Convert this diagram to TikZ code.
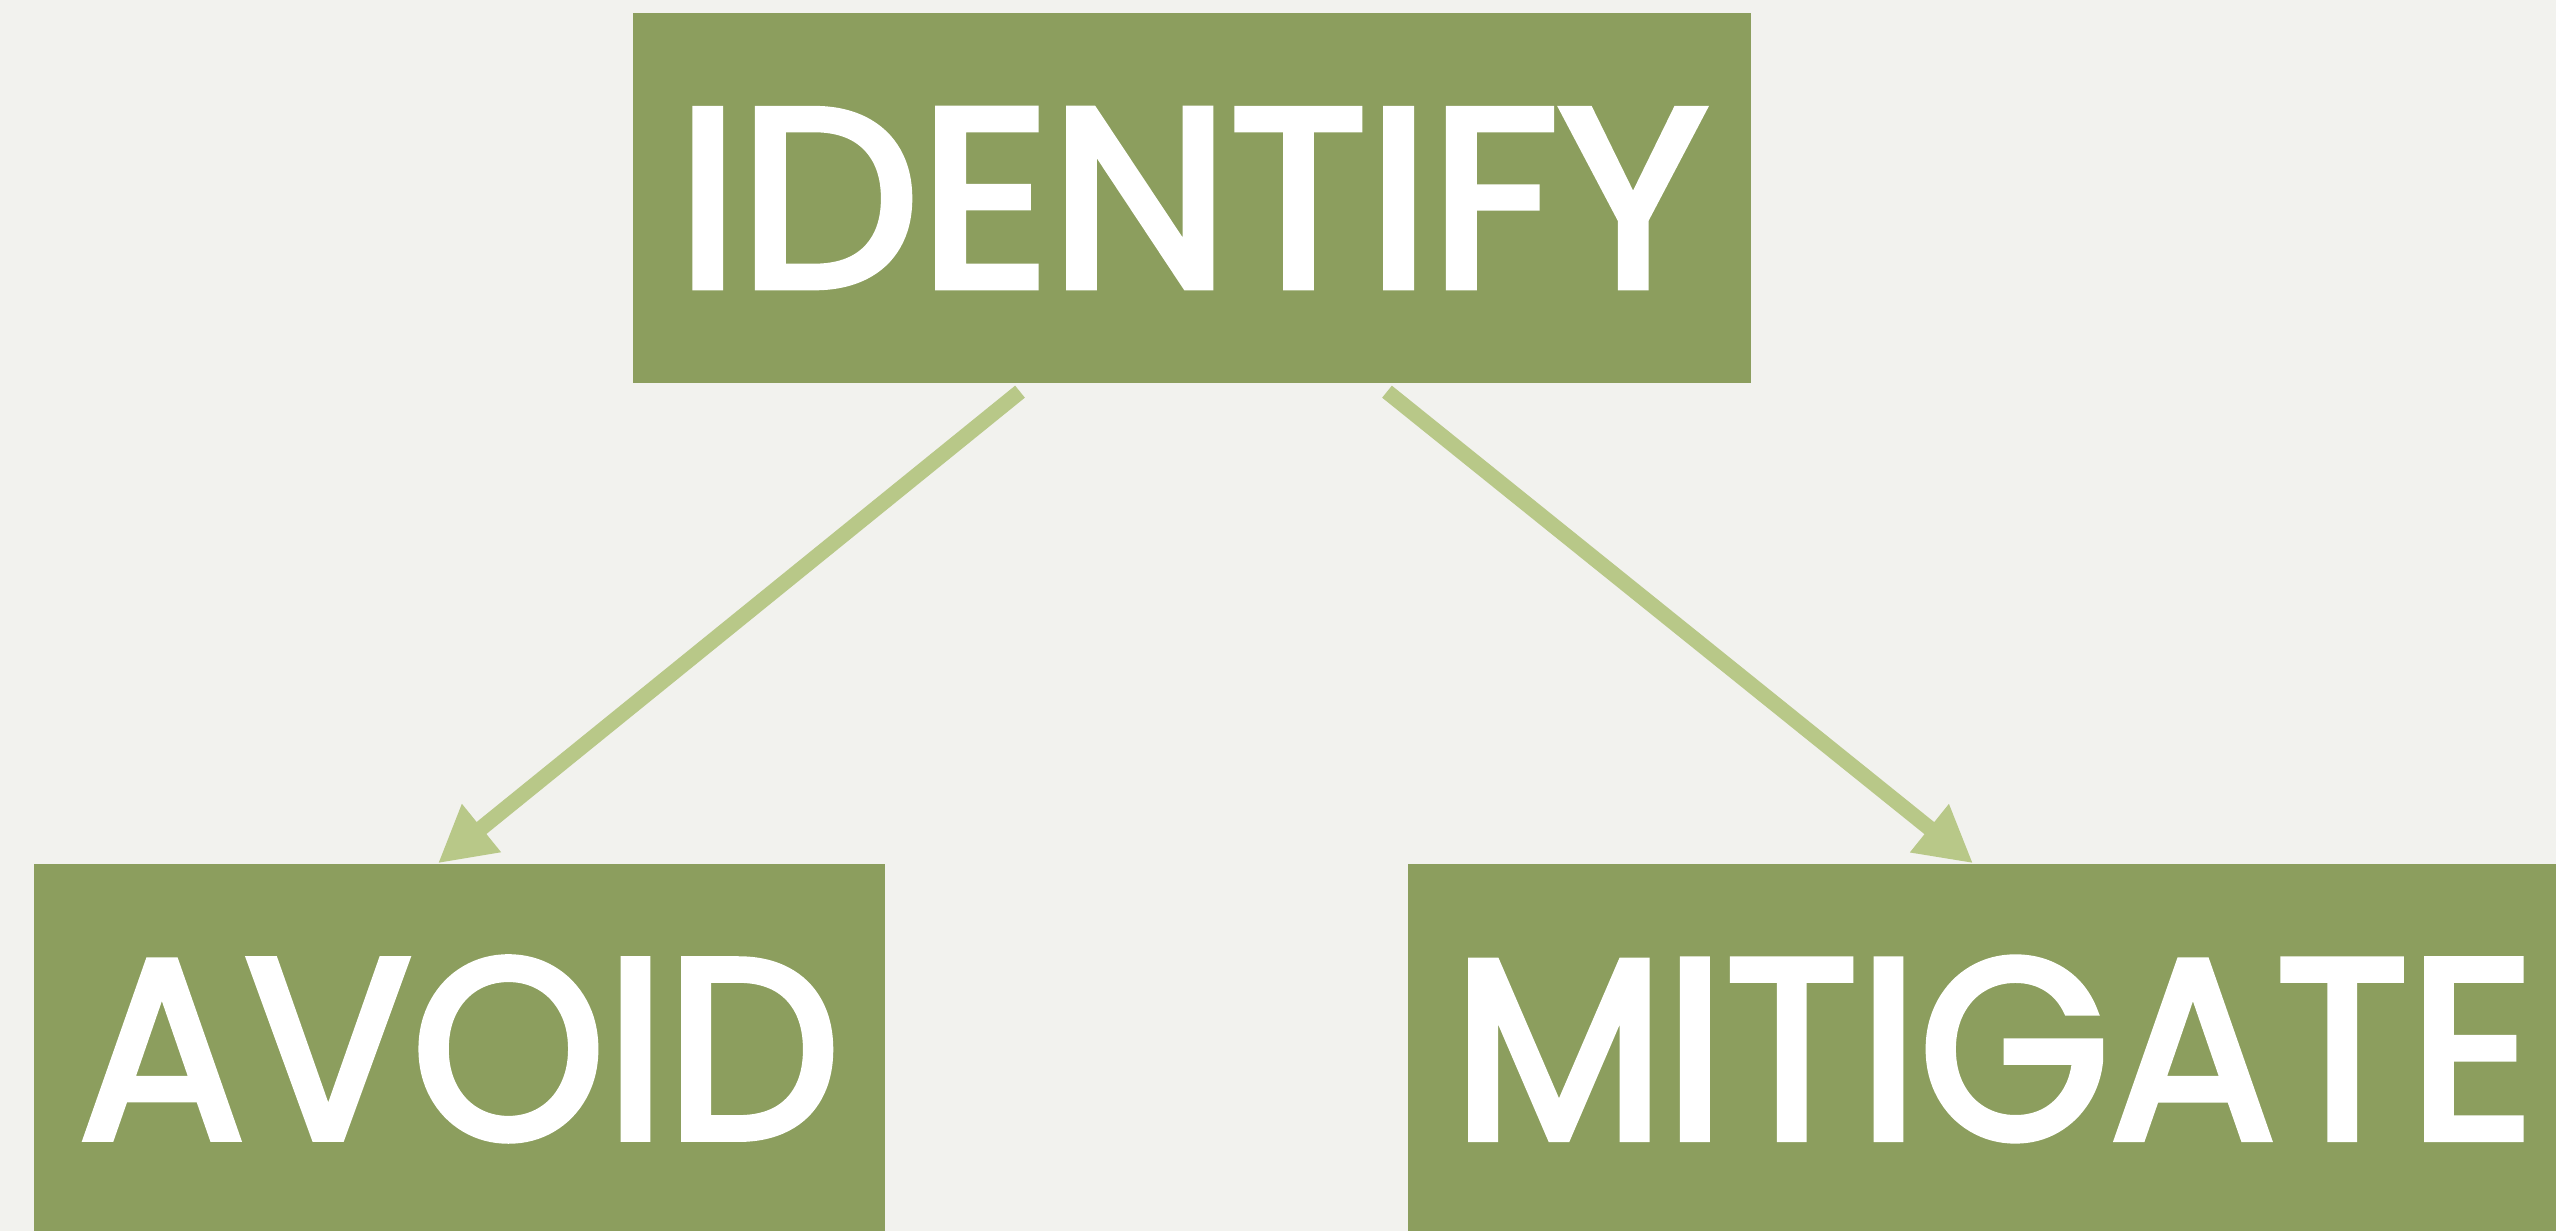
\documentclass[tikz,border=0pt]{standalone}
\usepackage{fontspec}
\setmainfont{Poppins}
\newfontfamily\stepfont{Poppins}[FakeBold=3]
\usetikzlibrary{arrows.meta}
\definecolor{paper}{HTML}{F2F2EE}
\definecolor{leaf}{HTML}{8C9E5E}
\definecolor{stem}{HTML}{B8C888}
\newcommand{\stepword}[3]{\resizebox{#1}{#2}{\stepfont #3}}

\begin{document}
\begin{tikzpicture}[
        stepbox/.style={fill=leaf, text=white, inner sep=0pt, minimum height=3.70cm},
        link/.style={-{Triangle[length=0.56cm, width=0.58cm]}, draw=stem, fill=stem, line width=4.4pt}]
        \clip (0,0) rectangle (25.56,12.31);
        \fill[paper] (0,0) rectangle (25.56,12.31);

        \node[stepbox, minimum width=11.18cm] (identify) at (11.92,10.33) {\stepword{10.31cm}{1.77cm}{IDENTIFY}};
        \node[stepbox, minimum width=8.51cm] (avoid) at (4.595,1.82) {\stepword{7.61cm}{1.80cm}{AVOID}};
        \node[stepbox, minimum width=11.72cm] (mitigate) at (19.94,1.82) {\stepword{10.82cm}{1.80cm}{MITIGATE}};

        \draw[link] ([xshift=-1.72cm, yshift=-0.08cm]identify.south) -- ([xshift=-0.215cm]avoid.north);
        \draw[link] ([xshift=1.95cm, yshift=-0.08cm]identify.south) -- ([xshift=-0.21cm]mitigate.north);
    \end{tikzpicture}
\end{document}
